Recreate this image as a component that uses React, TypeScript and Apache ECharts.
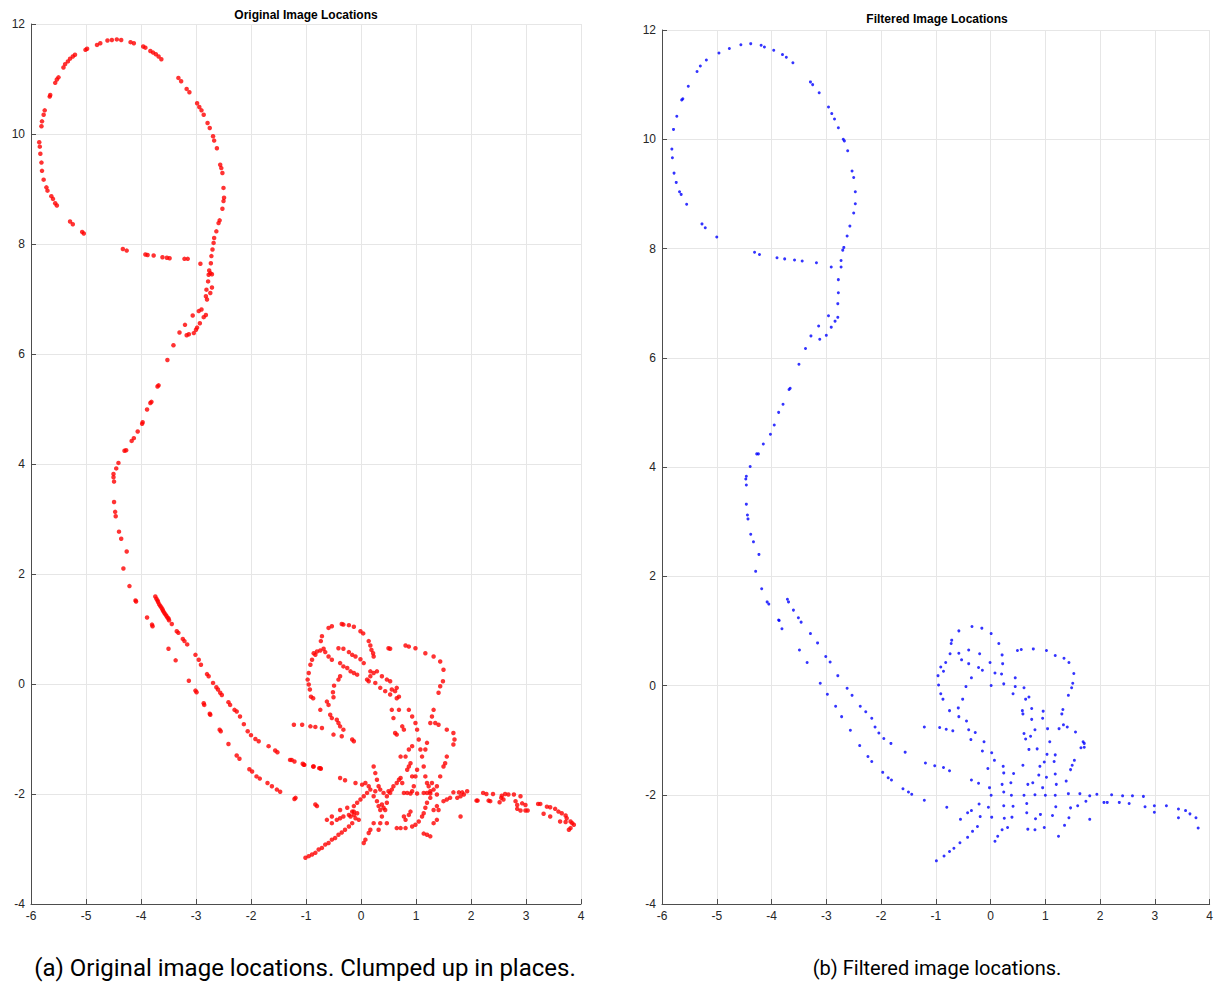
import React, { useEffect, useRef } from "react";
import * as echarts from "echarts";

// ---------- Tick settings ----------
const xTicks = { min: -6, max: 4, interval: 1 };
const yTicks = { min: -4, max: 12, interval: 2 };

const titleLeft = "Original Image Locations";
const titleRight = "Filtered Image Locations";
const captionLeft = "(a) Original image locations. Clumped up in places.";
const captionRight = "(b) Filtered image locations.";

// ---------- Original (red) locations ----------
const originalTopLoop: number[][] = [
  [-5.04, 8.19], [-5.07, 8.22], [-5.24, 8.36], [-5.29, 8.41], [-5.53, 8.7], [-5.56, 8.74], [-5.6, 8.82], [-5.63, 8.87],
  [-5.7, 8.97], [-5.72, 9.03], [-5.77, 9.17], [-5.8, 9.33], [-5.81, 9.48], [-5.83, 9.64], [-5.84, 9.77], [-5.85, 9.85],
  [-5.81, 10.14], [-5.8, 10.23], [-5.77, 10.35], [-5.75, 10.43], [-5.66, 10.68], [-5.65, 10.71], [-5.56, 10.93],
  [-5.53, 10.99], [-5.5, 11.03], [-5.41, 11.21], [-5.38, 11.27], [-5.33, 11.32], [-5.29, 11.37], [-5.24, 11.41],
  [-5.2, 11.44], [-5.01, 11.53], [-4.98, 11.55], [-4.8, 11.62], [-4.74, 11.65], [-4.61, 11.7], [-4.53, 11.71],
  [-4.44, 11.72], [-4.36, 11.71], [-4.19, 11.67], [-4.13, 11.65], [-3.96, 11.59], [-3.92, 11.57], [-3.83, 11.51],
  [-3.78, 11.48], [-3.73, 11.45], [-3.68, 11.41], [-3.63, 11.36], [-3.32, 11.02], [-3.27, 10.96], [-3.17, 10.82],
  [-3.12, 10.76], [-2.98, 10.56], [-2.94, 10.49], [-2.9, 10.43], [-2.86, 10.35], [-2.79, 10.2], [-2.75, 10.11],
  [-2.69, 9.96], [-2.67, 9.88], [-2.62, 9.74], [-2.56, 9.44], [-2.54, 9.38], [-2.52, 9.29], [-2.5, 9.02], [-2.49, 8.84],
  [-2.5, 8.78], [-2.52, 8.64], [-2.57, 8.43], [-2.59, 8.38], [-2.63, 8.23], [-2.67, 8.11], [-2.68, 8.02], [-2.7, 7.9],
  [-2.72, 7.78], [-2.73, 7.65], [-2.76, 7.52], [-2.77, 7.44], [-2.74, 7.47], [-2.71, 7.45], [-2.78, 7.32], [-2.81, 7.17],
  [-2.82, 7.05], [-2.74, 7.11], [-2.71, 7.21], [-2.8, 6.99],
];

const originalBar: number[][] = [
  [-4.33, 7.91], [-4.26, 7.88], [-3.92, 7.81], [-3.88, 7.8], [-3.77, 7.79], [-3.61, 7.76], [-3.53, 7.75], [-3.48, 7.74],
  [-3.21, 7.73], [-3.15, 7.73], [-2.92, 7.64],
];

const originalKink: number[][] = [
  [-2.9, 6.81], [-2.95, 6.78], [-3.06, 6.7], [-2.82, 6.71], [-2.86, 6.67], [-2.93, 6.56], [-2.98, 6.48], [-3.0, 6.44],
  [-3.04, 6.38], [-3.17, 6.34], [-3.13, 6.36], [-3.2, 6.53], [-3.3, 6.39], [-3.41, 6.16],
];

const originalDescent: number[][] = [
  [-3.52, 5.89], [-3.68, 5.43], [-3.7, 5.41], [-3.81, 5.13], [-3.83, 5.11], [-3.89, 4.99], [-3.97, 4.76], [-3.98, 4.73],
  [-4.06, 4.59], [-4.13, 4.47], [-4.17, 4.42], [-4.27, 4.25], [-4.3, 4.24], [-4.41, 4.02], [-4.45, 3.92], [-4.5, 3.82],
  [-4.5, 3.76], [-4.49, 3.68], [-4.49, 3.31], [-4.47, 3.13], [-4.46, 3.05], [-4.4, 2.77], [-4.36, 2.64], [-4.26, 2.41],
  [-4.32, 2.1], [-4.21, 1.78], [-4.1, 1.52], [-4.09, 1.5],
  [-3.74, 1.59], [-3.72, 1.55], [-3.7, 1.52], [-3.69, 1.49], [-3.67, 1.45], [-3.65, 1.42], [-3.63, 1.39], [-3.61, 1.36],
  [-3.6, 1.33], [-3.58, 1.3], [-3.56, 1.27], [-3.54, 1.24], [-3.52, 1.21], [-3.5, 1.19], [-3.49, 1.16], [-3.44, 1.09],
  [-3.35, 0.96], [-3.32, 0.93], [-3.24, 0.82], [-3.21, 0.78], [-3.16, 0.72], [-3.89, 1.21], [-3.8, 1.08], [-3.79, 1.05],
  [-3.5, 0.64], [-3.37, 0.43],
];

const originalUpperPath: number[][] = [
  [-3.01, 0.53], [-2.95, 0.44], [-2.91, 0.35], [-2.8, 0.18], [-2.77, 0.14], [-2.69, 0.02], [-2.63, -0.06], [-2.6, -0.1],
  [-2.56, -0.16], [-2.53, -0.2], [-2.41, -0.33], [-2.38, -0.38], [-2.3, -0.47], [-2.26, -0.5], [-2.2, -0.59],
  [-2.13, -0.73], [-2.06, -0.86], [-2.0, -0.93], [-1.92, -1.0], [-1.86, -1.04], [-1.68, -1.13], [-1.56, -1.21],
  [-1.52, -1.24], [-1.26, -1.38], [-1.21, -1.41], [-1.06, -1.45], [-1.03, -1.47], [-0.87, -1.5], [-0.76, -1.53],
  [-0.73, -1.54],
];

const originalLowerPath: number[][] = [
  [-3.13, 0.06], [-3.01, -0.12], [-2.99, -0.15], [-2.86, -0.35], [-2.85, -0.38], [-2.75, -0.54], [-2.74, -0.56],
  [-2.57, -0.83], [-2.55, -0.86], [-2.41, -1.09], [-2.26, -1.3], [-2.21, -1.36], [-2.03, -1.55], [-1.98, -1.59],
  [-1.9, -1.68], [-1.84, -1.72], [-1.7, -1.8], [-1.62, -1.86], [-1.53, -1.92], [-1.47, -1.96], [-1.21, -2.09],
];

const originalCluster: number[][] = [
  [-0.71, 0.87], [-0.73, 0.78], [-0.59, 1.02], [-0.53, 1.05], [-0.35, 1.09], [-0.32, 1.08], [-0.22, 1.07], [-0.13, 1.04],
  [-0.01, 0.96], [0.04, 0.92], [0.14, 0.78], [0.17, 0.7], [0.19, 0.62], [0.22, 0.56], [0.23, 0.5],
  [-0.41, 0.65], [-0.32, 0.64], [-0.22, 0.58], [-0.16, 0.53], [-0.1, 0.5], [-0.01, 0.45], [0.05, 0.38],
  [-0.86, 0.56], [-0.83, 0.53], [-0.8, 0.59], [-0.74, 0.61], [-0.68, 0.64], [-0.65, 0.58], [-0.89, 0.44], [-0.92, 0.35],
  [-0.95, 0.2], [-0.97, 0.08], [-0.95, -0.01], [-0.93, -0.1], [-0.91, -0.23], [-0.87, -0.26],
  [-0.59, 0.5], [-0.53, 0.44], [-0.38, 0.38], [-0.32, 0.32], [-0.25, 0.29], [-0.19, 0.23], [-0.13, 0.2], [-0.07, 0.17],
  [-0.38, 0.14], [-0.41, 0.08], [-0.49, -0.03], [-0.51, -0.15], [-0.5, -0.24], [-0.62, -0.32], [-0.59, -0.38],
  [-0.74, -0.47], [-0.56, -0.56], [-0.53, -0.62], [-0.44, -0.65], [-0.41, -0.71], [-0.38, -0.77], [-0.32, -0.83],
  [-0.5, -0.92], [-0.35, -0.95], [-0.16, -1.01], [-0.13, -1.04],
  [0.17, 0.23], [0.11, 0.08], [0.14, 0.05], [0.17, 0.14], [0.23, 0.2], [0.29, 0.23], [0.38, 0.14], [0.47, 0.08],
  [0.53, 0.05], [0.56, -0.1], [0.62, -0.13], [0.65, -0.07], [0.69, -0.23], [0.65, -0.26], [0.53, -0.19], [0.44, -0.13],
  [0.35, -0.07], [0.26, 0.02],
  [0.5, 0.65], [0.53, 0.64], [0.81, 0.7], [0.87, 0.68], [0.99, 0.65], [1.17, 0.56], [1.32, 0.5], [1.44, 0.41],
  [1.5, 0.26], [1.49, 0.05], [1.44, -0.04], [1.41, -0.16], [1.32, -0.47], [1.29, -0.59], [1.26, -0.71], [1.35, -0.71],
  [1.41, -0.74], [1.56, -0.83], [1.68, -0.89], [1.7, -1.01], [1.68, -1.1], [1.56, -1.32], [1.53, -1.44], [1.5, -1.5],
  [1.44, -1.68], [1.38, -1.86],
  [0.56, -0.47], [0.59, -0.62], [0.69, -0.47], [0.75, -0.77], [0.78, -0.83], [0.65, -0.92], [0.62, -0.89], [0.87, -0.47],
  [0.93, -0.59], [0.99, -0.71], [1.02, -0.83], [1.05, -1.01], [1.08, -1.19], [1.11, -1.32], [1.14, -1.5], [1.17, -1.68],
  [1.2, -1.8], [0.93, -1.13], [0.87, -1.19], [0.81, -1.32], [0.72, -1.32], [1.2, -1.07], [1.17, -1.19], [1.23, -1.86],
  [1.26, -1.95],
  [-1.22, -0.74], [-1.07, -0.74], [-0.92, -0.77], [-0.83, -0.78], [-0.71, -0.8], [-1.29, -1.38], [-1.04, -1.47],
  [-0.86, -1.5], [-0.74, -1.53], [-0.38, -1.71], [-0.29, -1.75], [-0.1, -1.8], [0.02, -1.83], [0.08, -1.8], [0.14, -1.86],
  [0.17, -1.92], [0.11, -1.98], [0.05, -2.04], [-0.01, -2.1], [-0.07, -2.16], [-0.13, -2.22], [-0.16, -2.32],
  [-0.22, -2.38], [-0.32, -2.41], [-0.38, -2.44], [-0.44, -2.47], [-0.53, -2.53], [-0.07, -2.35], [-0.19, -2.41],
  [-0.13, -2.38], [-0.1, -2.44], [-0.04, -2.47],
  [0.23, -1.5], [0.26, -1.62], [0.29, -1.74], [0.32, -1.86], [0.26, -1.95], [0.23, -2.04], [0.29, -2.13], [0.32, -2.22],
  [0.35, -2.29], [0.38, -2.19], [0.41, -2.25], [0.44, -2.29], [0.47, -2.16], [0.47, -2.04], [0.5, -1.95], [0.53, -1.98],
  [0.56, -1.92], [0.59, -1.86], [0.65, -1.8], [0.69, -1.74], [0.72, -1.71], [0.75, -1.8], [0.84, -1.56], [0.87, -1.5],
  [0.9, -1.44], [0.93, -1.68], [0.99, -1.68], [1.02, -1.56], [0.96, -1.86], [0.93, -1.95], [0.78, -1.98], [0.84, -1.98],
  [0.9, -1.99], [1.02, -1.99], [1.14, -1.98], [1.2, -1.98], [1.26, -1.99], [1.29, -1.8], [1.32, -1.92], [1.38, -2.01],
  [1.26, -2.07], [0.35, -1.92], [0.41, -1.98], [0.38, -2.41], [0.35, -2.53], [0.32, -2.65], [0.23, -2.53], [0.17, -2.65],
  [0.14, -2.71], [0.08, -2.83], [0.05, -2.89],
  [-1.19, -2.07], [-0.83, -2.19], [-0.8, -2.22], [-0.62, -2.47], [-0.53, -2.41], [-0.38, -2.29], [-0.25, -2.25],
  [-0.13, -2.32], [0.47, -2.53], [0.65, -2.62], [0.72, -2.62], [0.81, -2.62], [0.93, -2.59], [0.99, -2.56], [1.05, -2.5],
  [1.11, -2.41], [1.14, -2.35], [1.17, -2.25], [1.2, -2.16], [1.32, -2.29], [1.38, -2.22], [1.41, -2.29], [1.5, -2.13],
  [1.56, -2.1], [1.62, -2.07], [1.75, -2.07], [1.81, -2.04], [1.87, -2.01], [1.93, -1.95], [1.68, -1.97], [1.78, -1.97],
  [1.84, -1.97], [1.14, -2.72], [1.2, -2.74], [1.26, -2.77], [1.32, -2.53], [1.38, -2.47], [1.81, -2.41], [0.78, -2.41],
  [0.81, -2.47], [0.87, -2.38], [0.9, -2.32],
  [-1.01, -3.16], [-0.95, -3.13], [-0.89, -3.1], [-0.83, -3.07], [-0.77, -3.01], [-0.71, -2.98], [-0.65, -2.92],
  [-0.59, -2.89], [-0.53, -2.83], [-0.47, -2.8], [-0.41, -2.74], [-0.35, -2.7], [-0.29, -2.65], [-0.22, -2.59],
  [-0.16, -2.53],
];

const originalTail: number[][] = [
  [2.22, -1.98], [2.28, -2.0], [2.4, -2.0], [2.56, -2.03], [2.62, -2.0], [2.68, -2.01], [2.78, -2.01], [2.9, -2.04],
  [2.55, -2.07], [2.59, -2.1], [2.52, -2.15], [2.1, -2.12], [2.12, -2.12], [2.32, -2.12], [2.35, -2.13], [2.81, -2.13],
  [2.84, -2.2], [2.93, -2.17], [2.99, -2.2], [2.84, -2.27], [2.9, -2.3], [2.99, -2.3], [3.03, -2.3], [3.22, -2.18],
  [3.26, -2.18], [3.38, -2.23], [3.44, -2.24], [3.53, -2.27], [3.59, -2.32], [3.65, -2.35], [3.72, -2.39], [3.74, -2.44],
  [3.81, -2.5], [3.84, -2.53], [3.87, -2.56], [3.81, -2.62], [3.78, -2.65], [3.72, -2.51], [3.62, -2.5], [3.44, -2.41],
  [3.32, -2.36],
];

// ---------- Filtered (blue) locations ----------
const filteredTopLoop: number[][] = [
  [-5.79, 10.18], [-5.73, 10.42], [-5.64, 10.72], [-5.62, 10.74], [-5.52, 10.97], [-5.36, 11.24], [-5.3, 11.34],
  [-5.19, 11.45], [-4.96, 11.58], [-4.77, 11.66], [-4.56, 11.73], [-4.38, 11.75], [-4.19, 11.72], [-4.13, 11.69],
  [-3.96, 11.63], [-3.8, 11.55], [-3.73, 11.5], [-3.61, 11.4], [-3.29, 11.05], [-3.25, 11.0], [-3.13, 10.85],
  [-2.96, 10.59], [-2.9, 10.47], [-2.85, 10.37], [-2.78, 10.21], [-2.69, 10.0], [-2.67, 9.97], [-2.61, 9.79],
  [-2.53, 9.42], [-2.5, 9.3], [-2.47, 9.04], [-2.47, 8.82], [-2.5, 8.65], [-2.57, 8.41], [-2.62, 8.23], [-2.68, 8.02],
  [-2.7, 7.97], [-2.73, 7.78], [-2.91, 7.66], [-2.73, 7.66], [-2.78, 7.43], [-2.78, 7.19], [-2.79, 6.99], [-2.96, 6.77],
  [-2.79, 6.74], [-2.84, 6.67], [-3.14, 6.58], [-2.91, 6.56], [-3.28, 6.4], [-3.0, 6.41], [-3.12, 6.34], [-3.38, 6.17],
  [-5.82, 9.82], [-5.81, 9.66], [-5.78, 9.38], [-5.74, 9.21], [-5.68, 9.04], [-5.65, 8.99], [-5.55, 8.81],
  [-5.27, 8.45], [-5.21, 8.38], [-5.0, 8.21],
  [-4.31, 7.93], [-4.22, 7.89], [-3.9, 7.83], [-3.76, 7.81], [-3.58, 7.79], [-3.44, 7.77], [-3.18, 7.74],
];

const filteredDescent: number[][] = [
  [-3.5, 5.88], [-3.68, 5.42], [-3.66, 5.44], [-3.79, 5.15], [-3.87, 5.0], [-3.95, 4.77], [-4.02, 4.6], [-4.15, 4.42],
  [-4.27, 4.24], [-4.24, 4.24], [-4.39, 4.01], [-4.46, 3.83], [-4.47, 3.78], [-4.46, 3.67], [-4.46, 3.32],
  [-4.44, 3.12], [-4.43, 3.05], [-4.38, 2.77], [-4.33, 2.63], [-4.23, 2.4], [-4.29, 2.09], [-4.18, 1.77], [-4.08, 1.53],
  [-4.05, 1.49], [-3.71, 1.58], [-3.69, 1.53], [-3.6, 1.38], [-3.87, 1.2], [-3.86, 1.19], [-3.51, 1.24], [-3.46, 1.16],
  [-3.81, 1.04], [-3.29, 0.95], [-3.16, 0.78], [-3.49, 0.65],
];

const filteredLower: number[][] = [
  [-3.35, 0.42], [-3.01, 0.53], [-2.93, 0.43], [-2.79, 0.18], [-3.11, 0.04], [-2.62, -0.05], [-2.98, -0.16],
  [-2.53, -0.18], [-2.83, -0.38], [-2.38, -0.38], [-2.28, -0.48], [-2.72, -0.57], [-2.17, -0.6], [-2.11, -0.76],
  [-2.56, -0.82], [-2.04, -0.87], [-1.95, -0.97], [-1.82, -1.06], [-2.39, -1.1], [-2.24, -1.3], [-2.17, -1.39],
  [-1.97, -1.59], [-1.87, -1.69], [-1.81, -1.73],
];

const filteredCluster: number[][] = [
  [-0.34, 1.08], [-0.16, 1.05], [-0.58, 1.0], [0.01, 0.95], [-0.71, 0.83], [-0.72, 0.77], [0.15, 0.77],
  [0.49, 0.64], [0.56, 0.66], [0.78, 0.67], [1.02, 0.64], [-0.74, 0.58], [-0.58, 0.59], [-0.4, 0.65], [-0.2, 0.58],
  [0.21, 0.56], [1.18, 0.55], [1.34, 0.5], [-0.82, 0.42], [-0.53, 0.47], [-0.4, 0.4], [-0.01, 0.42], [0.22, 0.4],
  [1.43, 0.42], [-0.91, 0.34], [-0.86, 0.26], [-0.22, 0.33], [-0.15, 0.28], [0.08, 0.23], [0.2, 0.21], [1.52, 0.22],
  [-0.96, 0.18], [-0.35, 0.14], [0.45, 0.14], [-0.95, 0.01], [-0.45, -0.02], [0.01, 0.0], [0.24, 0.03], [0.45, -0.02],
  [0.61, -0.04], [1.5, 0.04], [1.48, -0.04], [-0.91, -0.15], [-0.87, -0.25], [-0.51, -0.25], [0.41, -0.15],
  [0.7, -0.21], [0.64, -0.25], [1.42, -0.18], [-0.75, -0.46], [-0.59, -0.41], [-0.58, -0.57], [-0.44, -0.65],
  [0.58, -0.46], [0.59, -0.52], [0.75, -0.42], [0.96, -0.47], [0.95, -0.6], [0.75, -0.62], [1.32, -0.44], [1.3, -0.52],
  [-1.21, -0.76], [-0.93, -0.77], [-0.81, -0.8], [-0.69, -0.83], [-0.4, -0.81], [-0.28, -0.86], [-0.36, -0.99],
  [-0.12, -1.03], [0.61, -0.88], [0.64, -0.98], [0.73, -0.93], [0.81, -0.81], [1.04, -0.79], [1.25, -0.79],
  [1.33, -0.72], [1.4, -0.76], [1.55, -0.85], [1.08, -1.03], [-1.56, -1.22], [-0.15, -1.2], [0.02, -1.23],
  [0.7, -1.17], [0.85, -1.16], [1.69, -1.03], [1.71, -1.06], [1.65, -1.14], [1.71, -1.13], [1.03, -1.26], [1.18, -1.27],
  [-1.19, -1.42], [-1.02, -1.47], [-0.86, -1.5], [-0.75, -1.56], [0.07, -1.37], [-0.05, -1.52], [0.23, -1.48],
  [0.24, -1.6], [0.42, -1.61], [0.59, -1.46], [0.9, -1.48], [0.98, -1.4], [1.16, -1.39], [1.53, -1.37], [1.49, -1.46],
  [1.46, -1.54], [0.88, -1.64], [1.02, -1.68], [1.18, -1.62], [-0.35, -1.73], [-0.22, -1.79], [-1.6, -1.89],
  [-1.5, -1.95], [-1.44, -1.99], [-0.02, -1.87], [0.01, -2.01], [0.21, -1.81], [0.24, -1.95], [0.37, -1.78],
  [0.38, -2.01], [0.61, -2.01], [0.68, -1.81], [0.77, -1.78], [0.81, -2.0], [0.95, -1.87], [1.0, -2.01], [1.18, -2.01],
  [1.2, -1.81], [1.38, -1.75], [1.42, -1.98], [1.63, -1.98], [1.81, -2.02], [1.94, -1.99], [-1.21, -2.1], [-0.8, -2.23],
  [-0.21, -2.17], [-0.35, -2.29], [-0.42, -2.33], [-0.55, -2.45], [-0.19, -2.4], [-0.04, -2.23], [0.02, -2.41],
  [0.24, -2.2], [0.41, -2.21], [0.25, -2.43], [0.39, -2.41], [0.66, -2.16], [0.66, -2.33], [0.82, -2.44], [0.91, -2.36],
  [1.13, -2.38], [1.19, -2.22], [1.46, -2.24], [1.59, -2.2], [1.74, -2.12], [1.43, -2.42], [1.81, -2.45],
  [-0.24, -2.58], [-0.33, -2.67], [-0.42, -2.78], [-0.56, -2.88], [-0.67, -2.98], [-0.75, -3.04], [-0.85, -3.12],
  [-0.99, -3.21], [0.21, -2.64], [0.31, -2.6], [0.13, -2.76], [0.08, -2.85], [0.68, -2.63], [0.81, -2.64],
  [0.98, -2.6], [1.35, -2.56], [1.24, -2.76],
];

const filteredTail: number[][] = [
  [2.07, -2.14], [2.13, -2.14], [2.21, -2.0], [2.35, -2.14], [2.41, -2.02], [2.53, -2.16], [2.59, -2.02], [2.79, -2.03],
  [2.82, -2.22], [2.99, -2.2], [2.99, -2.32], [3.21, -2.2], [3.43, -2.26], [3.43, -2.42], [3.56, -2.29], [3.64, -2.35],
  [3.75, -2.42], [3.79, -2.61],
];

const originalPoints = [
  ...originalTopLoop, ...originalBar, ...originalKink, ...originalDescent,
  ...originalUpperPath, ...originalLowerPath, ...originalCluster, ...originalTail,
];
const filteredPoints = [...filteredTopLoop, ...filteredDescent, ...filteredLower, ...filteredCluster, ...filteredTail];

const axisColor = "#4d4d4d";
const labelFont = "Liberation Sans";

function makeAxis(gridIndex: number, ticks: { min: number; max: number; interval: number }) {
  return {
    gridIndex,
    type: "value",
    min: ticks.min,
    max: ticks.max,
    interval: ticks.interval,
    axisLine: { show: true, onZero: false, lineStyle: { color: axisColor, width: 1 } },
    axisTick: { show: true, inside: true, length: 5, lineStyle: { color: axisColor } },
    axisLabel: { color: "#262626", fontSize: 12, margin: 6, fontFamily: labelFont },
    splitLine: { show: true, lineStyle: { color: "#e6e6e6", width: 1 } },
  };
}

export default function App() {
  const ref = useRef<HTMLDivElement>(null);
  useEffect(() => {
    if (!ref.current) return;
    const chart = echarts.init(ref.current, null, { renderer: "svg" });
    chart.setOption({
      animation: false,
      backgroundColor: "#ffffff",
      grid: [
        { left: 31, top: 24, width: 550, height: 880 },
        { left: 662, top: 30, width: 550, height: 874 },
      ],
      xAxis: [makeAxis(0, xTicks), makeAxis(1, xTicks)],
      yAxis: [makeAxis(0, yTicks), makeAxis(1, yTicks)],
      series: [
        {
          type: "scatter",
          xAxisIndex: 0,
          yAxisIndex: 0,
          data: originalPoints,
          symbol: "circle",
          symbolSize: 4.5,
          itemStyle: { color: "#ff0000" },
        },
        {
          type: "scatter",
          xAxisIndex: 1,
          yAxisIndex: 1,
          data: filteredPoints,
          symbol: "circle",
          symbolSize: 3,
          itemStyle: { color: "#0000ff" },
        },
      ],
      graphic: [
        {
          type: "text", x: 306, y: 15,
          style: { text: titleLeft, fontSize: 12, fontWeight: "bold", fill: "#000", fontFamily: labelFont, textAlign: "center", textVerticalAlign: "middle" },
        },
        {
          type: "text", x: 937, y: 19,
          style: { text: titleRight, fontSize: 12, fontWeight: "bold", fill: "#000", fontFamily: labelFont, textAlign: "center", textVerticalAlign: "middle" },
        },
        {
          type: "text", x: 305, y: 968,
          style: { text: captionLeft, fontSize: 24, fill: "#000", fontFamily: "Roboto", textAlign: "center", textVerticalAlign: "middle" },
        },
        {
          type: "text", x: 937, y: 968,
          style: { text: captionRight, fontSize: 20, fill: "#000", fontFamily: "Roboto", textAlign: "center", textVerticalAlign: "middle" },
        },
      ],
    });
    return () => chart.dispose();
  }, []);
  return <div ref={ref} style={{ position: "absolute", left: 0, top: 0, width: 1216, height: 987 }} />;
}
